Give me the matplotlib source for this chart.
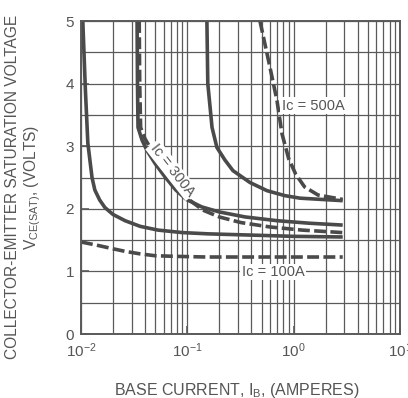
import matplotlib.pyplot as plt
from matplotlib.ticker import LogLocator, MultipleLocator, NullFormatter

plt.rcParams['font.family'] = ['Liberation Sans', 'DejaVu Sans']

# Base current (A) and V_CE(sat) (V)
ib_s100 = [0.0104, 0.0110, 0.0116, 0.0127, 0.0135, 0.0150, 0.0168, 0.0200, 0.026, 0.036, 0.053, 0.090, 0.157, 0.40, 1.0, 2.9]
v_s100 = [5.0, 3.9, 3.05, 2.5, 2.3, 2.14, 2.02, 1.91, 1.81, 1.72, 1.66, 1.62, 1.60, 1.58, 1.56, 1.55]

ib_s300 = [0.0337, 0.0340, 0.0344, 0.0375, 0.0418, 0.0500, 0.0611, 0.078, 0.098, 0.137, 0.20, 0.35, 0.70, 1.4, 2.9]
v_s300 = [5.0, 4.0, 3.3, 3.1, 2.93, 2.72, 2.52, 2.30, 2.15, 2.03, 1.95, 1.87, 1.81, 1.77, 1.74]

ib_d300 = [0.0353, 0.0357, 0.0364, 0.0400, 0.0450, 0.0530, 0.066, 0.082, 0.105, 0.140, 0.20, 0.32, 0.60, 1.2, 2.9]
v_d300 = [5.0, 4.0, 3.3, 3.12, 2.97, 2.80, 2.58, 2.36, 2.14, 1.98, 1.87, 1.78, 1.71, 1.66, 1.62]

ib_s500 = [0.153, 0.156, 0.171, 0.190, 0.226, 0.269, 0.389, 0.562, 0.830, 1.15, 2.9]
v_s500 = [5.0, 4.0, 3.3, 2.98, 2.78, 2.61, 2.42, 2.29, 2.21, 2.17, 2.13]

ib_d500 = [0.483, 0.60, 0.698, 0.778, 0.90, 1.05, 1.27, 1.70, 2.9]
v_d500 = [5.0, 4.26, 3.73, 3.20, 2.80, 2.55, 2.35, 2.22, 2.15]

ib_d100 = [0.0100, 0.0140, 0.0190, 0.0260, 0.0360, 0.0500, 0.080, 0.15, 0.40, 1.0, 2.9]
v_d100 = [1.47, 1.42, 1.37, 1.32, 1.28, 1.25, 1.24, 1.23, 1.23, 1.23, 1.23]

grid_col = '#5a5a5a'
line_col = '#4a4a4a'
text_col = '#555555'

fig = plt.figure(figsize=(4.08, 3.98), dpi=100)
ax = fig.add_axes([0.1985, 0.1608, 0.7815, 0.7864])

ax.set_xscale('log')
ax.set_xlim(0.01, 10)
ax.set_ylim(0, 5)

ax.xaxis.set_major_locator(LogLocator(base=10, numticks=10))
ax.xaxis.set_minor_locator(LogLocator(base=10, subs=range(2, 10), numticks=20))
ax.xaxis.set_minor_formatter(NullFormatter())
ax.yaxis.set_major_locator(MultipleLocator(1))
ax.yaxis.set_minor_locator(MultipleLocator(0.5))

ax.grid(True, which='both', color=grid_col, linewidth=0.9)
ax.set_axisbelow(True)

lw = 2.6
dash = (3.3, 1.2)
ax.plot(ib_s100, v_s100, color=line_col, lw=lw, solid_capstyle='butt')
ax.plot(ib_s300, v_s300, color=line_col, lw=lw, solid_capstyle='butt')
ax.plot(ib_s500, v_s500, color=line_col, lw=lw, solid_capstyle='butt')
ax.plot(ib_d100, v_d100, color=line_col, lw=lw, dashes=dash)
ax.plot(ib_d300, v_d300, color=line_col, lw=lw, dashes=dash)
ax.plot(ib_d500, v_d500, color=line_col, lw=lw, dashes=dash)

box = dict(facecolor='white', edgecolor='none', pad=1.0)
ax.text(0.64, 0.99, 'Ic = 100A', fontsize=10.5, color=text_col, ha='center', va='center', bbox=box)
ax.text(1.52, 3.65, 'Ic = 500A', fontsize=10.5, color=text_col, ha='center', va='center', bbox=box)
ax.text(0.072, 2.62, 'Ic = 300A', fontsize=10.5, color=text_col, ha='center', va='center',
        rotation=-52, bbox=box)

for s in ax.spines.values():
    s.set_color(grid_col)
    s.set_linewidth(1.4)
ax.tick_params(which='both', direction='in', colors=grid_col, labelcolor=text_col, labelsize=11)
ax.tick_params(which='major', length=6, width=1.2, pad=5)
ax.tick_params(which='minor', length=0)

ax.set_xlabel('BASE CURRENT, I$_\\mathregular{B}$, (AMPERES)', fontsize=11.5, color=text_col,
              va='baseline')
ax.xaxis.set_label_coords(0.489, -0.194)
ax.set_ylabel('COLLECTOR-EMITTER SATURATION VOLTAGE\nV$_\\mathregular{CE(SAT)}$, (VOLTS)',
              fontsize=11.2, color=text_col, linespacing=1.15)
ax.yaxis.set_label_coords(-0.119, 0.47)

fig.savefig('out.png', dpi=100, facecolor='white')
